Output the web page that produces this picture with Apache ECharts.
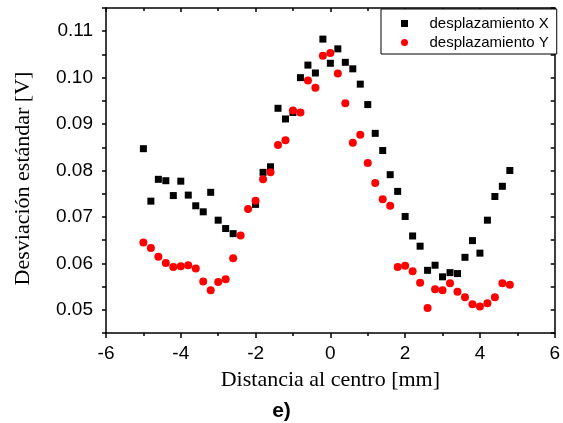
<!DOCTYPE html>
<html>
<head>
<meta charset="utf-8">
<script src="https://cdn.jsdelivr.net/npm/echarts@6/dist/echarts.min.js"></script>
<style>
html,body{margin:0;padding:0;background:#fff;}
#chart{width:563px;height:423px;}
</style>
</head>
<body>
<div id="chart"></div>
<script>
// Positions along the scan (mm)
const xPosX = [-5.0,-4.8,-4.6,-4.4,-4.2,-4.0,-3.8,-3.6,-3.4,-3.2,-3.0,-2.8,-2.6,-2.0,-1.8,-1.6,-1.4,-1.2,-1.0,-0.8,-0.6,-0.4,-0.2,0.0,0.2,0.4,0.6,0.8,1.0,1.2,1.4,1.6,1.8,2.0,2.2,2.4,2.6,2.8,3.0,3.2,3.4,3.6,3.8,4.0,4.2,4.4,4.6,4.8];
const valX = [0.0847,0.0734,0.0781,0.0778,0.0746,0.0777,0.0747,0.0724,0.0711,0.0753,0.0693,0.0675,0.0664,0.0727,0.0796,0.0808,0.0934,0.0911,0.0925,0.1000,0.1027,0.1010,0.1083,0.1031,0.1062,0.1033,0.1019,0.0986,0.0942,0.0880,0.0843,0.0791,0.0755,0.0701,0.0659,0.0637,0.0585,0.0596,0.0571,0.0580,0.0578,0.0613,0.0649,0.0622,0.0693,0.0744,0.0766,0.0800];
const xPosY = [-5.0,-4.8,-4.6,-4.4,-4.2,-4.0,-3.8,-3.6,-3.4,-3.2,-3.0,-2.8,-2.6,-2.4,-2.2,-2.0,-1.8,-1.6,-1.4,-1.2,-1.0,-0.8,-0.6,-0.4,-0.2,0.0,0.2,0.4,0.6,0.8,1.0,1.2,1.4,1.6,1.8,2.0,2.2,2.4,2.6,2.8,3.0,3.2,3.4,3.6,3.8,4.0,4.2,4.4,4.6,4.8];
const valY = [0.0645,0.0633,0.0614,0.0601,0.0592,0.0594,0.0596,0.0589,0.0561,0.0542,0.0560,0.0566,0.0611,0.0660,0.0717,0.0735,0.0781,0.0796,0.0855,0.0865,0.0929,0.0925,0.0994,0.0978,0.1047,0.1053,0.1009,0.0945,0.0860,0.0877,0.0816,0.0773,0.0738,0.0724,0.0592,0.0595,0.0583,0.0558,0.0504,0.0544,0.0542,0.0557,0.0539,0.0527,0.0512,0.0507,0.0514,0.0527,0.0557,0.0554];
const seriesNames = ['desplazamiento X','desplazamiento Y'];
const yTickLabels = ['0.05','0.06','0.07','0.08','0.09','0.10','0.11'];
const xTickLabels = ['-6','-4','-2','0','2','4','6'];

const chart = echarts.init(document.getElementById('chart'), null, {renderer:'canvas'});
const lineStyle = {color:'#000', width:1.5};
const sans = 'Liberation Sans, Arial, sans-serif';
const serif = 'Liberation Serif, Times New Roman, serif';

chart.setOption({
  animation:false,
  backgroundColor:'#fff',
  title:{text:'e)', left:'center', top:396, textStyle:{fontFamily:sans, fontSize:21, fontWeight:'bold', color:'#000'}},
  grid:{left:106, right:6, top:8, bottom:90, containLabel:false},
  legend:{
    orient:'vertical', left:381, top:9, padding:[7,8,4,20],
    itemWidth:40, itemHeight:7, itemGap:4, symbolKeepAspect:true,
    borderColor:'#000', borderWidth:1, backgroundColor:'#fff',
    textStyle:{fontFamily:sans, fontSize:15, color:'#000'},
    data:[{name:seriesNames[0], icon:'path://M0,0L10,0L10,10L0,10Z'},{name:seriesNames[1], icon:'circle'}]
  },
  xAxis:[{
    type:'value', min:-6, max:6, interval:2, position:'bottom',
    name:'Distancia al centro [mm]', nameLocation:'middle', nameGap:36,
    nameTextStyle:{fontFamily:serif, fontSize:22, color:'#000'},
    axisLine:{show:true, onZero:false, lineStyle},
    axisTick:{show:true, inside:false, length:5, lineStyle},
    minorTick:{show:true, splitNumber:2, length:3, lineStyle:{color:'#000', width:1.5}},
    splitLine:{show:false},
    axisLabel:{fontFamily:sans, fontSize:19, color:'#000', margin:11,
      formatter:v=>{const s=xTickLabels.find(t=>Math.abs(parseFloat(t)-v)<1e-9); return s===undefined?'':s;}}
  },{
    type:'value', min:-6, max:6, interval:2, position:'top',
    axisLine:{show:true, onZero:false, lineStyle},
    axisTick:{show:true, inside:true, length:4, lineStyle},
    minorTick:{show:true, splitNumber:2, length:3, lineStyle:{color:'#000', width:1.5}},
    splitLine:{show:false}, axisLabel:{show:false}
  }],
  yAxis:[{
    type:'value', min:0.045, max:0.115, interval:0.005, position:'left',
    name:'Desviación estándar [V]', nameLocation:'middle', nameGap:72,
    nameTextStyle:{fontFamily:serif, fontSize:22, color:'#000', padding:[0,16,0,0]},
    axisLine:{show:true, onZero:false, lineStyle},
    axisTick:{show:true, inside:false, length:4, lineStyle},
    splitLine:{show:false},
    axisLabel:{fontFamily:sans, fontSize:19, color:'#000', margin:13,
      formatter:v=>{const s=yTickLabels.find(t=>Math.abs(parseFloat(t)-v)<1e-9); return s===undefined?'':s;}}
  },{
    type:'value', min:0.045, max:0.115, interval:0.005, position:'right',
    axisLine:{show:true, onZero:false, lineStyle},
    axisTick:{show:true, inside:true, length:4, lineStyle},
    splitLine:{show:false}, axisLabel:{show:false}
  }],
  series:[{
    name:seriesNames[0], type:'scatter', xAxisIndex:0, yAxisIndex:0,
    symbol:'rect', symbolSize:7, itemStyle:{color:'#000', opacity:1},
    data:xPosX.map((x,i)=>[x,valX[i]]), z:2
  },{
    name:seriesNames[1], type:'scatter', xAxisIndex:0, yAxisIndex:0,
    symbol:'circle', symbolSize:8, itemStyle:{color:'#ff0000', opacity:1},
    data:xPosY.map((x,i)=>[x,valY[i]]), z:3
  }]
});
</script>
</body>
</html>
